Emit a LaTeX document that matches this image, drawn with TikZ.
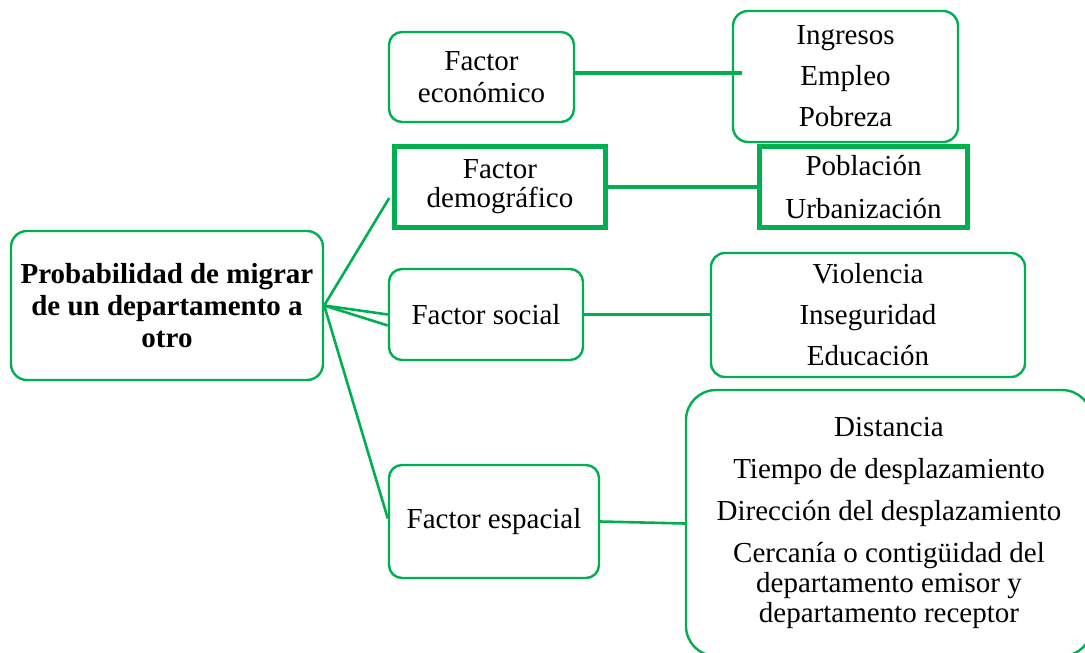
\documentclass[tikz,border=0pt]{standalone}
\usepackage{fontspec}
\setmainfont{Liberation Serif}
\usetikzlibrary{calc}
\definecolor{gr}{HTML}{00B050}
\tikzset{
  rbox/.style={draw=gr, line width=2.4pt, rounded corners=#1, inner sep=0pt, align=center,
    font=\fontsize{29}{31}\selectfont},
  rbox/.default=13pt,
  tbox/.style={draw=gr, line width=4.5pt, inner sep=0pt, align=center,
    font=\fontsize{29}{29}\selectfont},
  conn/.style={draw=gr, line width=2.6pt},
}
\begin{document}
\begin{tikzpicture}[x=1pt,y=1pt]
\clip (0,0) rectangle (1085,-653);
\fill[white] (0,0) rectangle (1085,-653);
% level 0
\node[rbox=16pt, minimum width=312pt, minimum height=149pt, font=\fontsize{29}{32}\bfseries\selectfont] (root) at (167,-305.5)
  {Probabilidad de migrar\\de un departamento a\\otro};
% level 1
\node[rbox, minimum width=185pt, minimum height=90pt, font=\fontsize{29}{32}\selectfont] (econ) at (481.5,-77) {Factor\\económico};
\node[tbox, minimum width=211pt, minimum height=81pt] (demo) at (500,-187) {\raisebox{-3pt}{Factor}\\\raisebox{-3pt}{demográfico}};
\node[rbox, minimum width=194pt, minimum height=91pt] (soc) at (486,-314.5) {Factor social};
\node[rbox, minimum width=210pt, minimum height=113pt] (esp) at (494,-521.5) {Factor espacial};
% level 2
\node[rbox=15pt, minimum width=225pt, minimum height=131pt, font=\fontsize{29}{30}\selectfont] (ing) at (845.5,-76.5)
  {Ingresos\\[11pt]Empleo\\[11pt]Pobreza};
\node[tbox, minimum width=208pt, minimum height=81pt] (pob) at (863.5,-187)
  {Población\\[14pt]Urbanización};
\node[rbox=14pt, minimum width=314pt, minimum height=124pt, font=\fontsize{29}{30}\selectfont] (vio) at (868,-315)
  {Violencia\\[11pt]Inseguridad\\[11pt]Educación};
\node[rbox=30pt, minimum width=406pt, minimum height=266pt, font=\fontsize{29}{30}\selectfont] (dis) at (889,-523)
  {Distancia\\[12pt]Tiempo de desplazamiento\\[12pt]Dirección del desplazamiento\\[12pt]Cercanía o contigüidad del\\departamento emisor y\\departamento receptor};
% connectors
\coordinate (e1) at ($(econ.east)+(0,4.3)$);
\coordinate (e2) at ($(e1 -| ing.west)+(10,0)$);
\draw[conn] (root.east) -- ($(demo.west)+(-3,-11)$);
\draw[conn] (root.east) -- (soc.west);
\draw[conn] (root.east) -- ($(soc.west)+(0,-11)$);
\draw[conn] (root.east) -- ($(esp.west)+(0,3)$);
\draw[conn, line width=3.8pt] (e1) -- (e2);
\draw[conn, line width=3.6pt] (demo.east) -- (pob.west);
\draw[conn] (soc.east) -- (soc.east -| vio.west);
\draw[conn] (esp.east) -- ($(dis.west)+(0,-0.5)$);
\end{tikzpicture}
\end{document}
